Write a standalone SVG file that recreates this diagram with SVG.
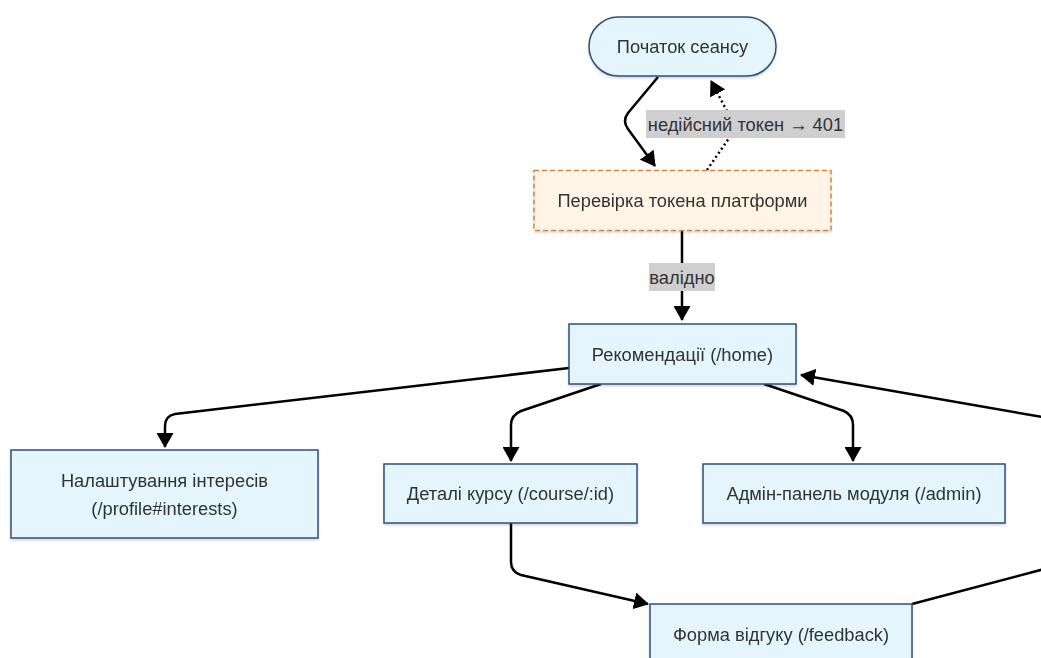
<svg xmlns="http://www.w3.org/2000/svg" width="1041" height="658" viewBox="0 0 1041 658">
  <style>
    .node { fill: #e5f5fd; stroke: #2b4f7e; stroke-width: 1.5; }
    .check { fill: #fff4e5; stroke: #d9843c; stroke-width: 1.5; stroke-dasharray: 5 3; }
    .label { font-family: "Liberation Sans", Arial, sans-serif; font-size: 18.3px; fill: #333; text-anchor: middle; dominant-baseline: central; }
    .edge { fill: none; stroke: #000; stroke-width: 2.5; }
    .dotted { stroke-dasharray: 2 3; }
    .elbg { fill: #cfcfcf; }
  </style>
  <defs>
    <marker id="arrow" viewBox="0 0 15 17" refX="14" refY="8.5" markerWidth="15" markerHeight="17" markerUnits="userSpaceOnUse" orient="auto">
      <path d="M0,0 L15,8.5 L0,17 z" fill="#000"/>
    </marker>
    <filter id="shadow" x="-10%" y="-10%" width="120%" height="130%">
      <feDropShadow dx="0" dy="1.5" stdDeviation="1.2" flood-color="#000" flood-opacity="0.18"/>
    </filter>
  </defs>

  <g id="edges">
    <path class="edge" d="M658,77 L628,113 Q622,121 628,129 L655,166" marker-end="url(#arrow)"/>
    <path class="edge dotted" d="M707,170 L736,128 L711,81" marker-end="url(#arrow)"/>
    <path class="edge" d="M682,231 L682,320" marker-end="url(#arrow)"/>
    <path class="edge" d="M569,368 L175,414 Q165,416 165,426 L165,447" marker-end="url(#arrow)"/>
    <path class="edge" d="M601,384 L521,411 Q511,415 511,425 L511,461" marker-end="url(#arrow)"/>
    <path class="edge" d="M764,384 L844,411 Q853,415 853,425 L853,461" marker-end="url(#arrow)"/>
    <path class="edge" d="M511,523 L511,562 Q511,572 521,575 L648,604" marker-end="url(#arrow)"/>
    <path class="edge" d="M912,604 L1048,568 Q1060,565 1060,552 L1060,432 Q1060,420 1048,418 L801,375" marker-end="url(#arrow)"/>
    <g id="edge-labels">
      <rect class="elbg" x="646" y="110" width="199" height="28"/>
      <text class="label" x="745.5" y="124">недійсний токен → 401</text>
      <rect class="elbg" x="649" y="263" width="66" height="28"/>
      <text class="label" x="682" y="277">валідно</text>
    </g>
  </g>

  <g id="start" filter="url(#shadow)">
    <rect class="node" x="589" y="17" width="187" height="59" rx="29.5"/>
    <text class="label" x="682.5" y="46.5">Початок сеансу</text>
  </g>
  <g id="token-check" filter="url(#shadow)">
    <rect class="check" x="534" y="170.5" width="297" height="60"/>
    <text class="label" x="682.5" y="200.5">Перевірка токена платформи</text>
  </g>
  <g id="home" filter="url(#shadow)">
    <rect class="node" x="569" y="324" width="227" height="60"/>
    <text class="label" x="682.5" y="354">Рекомендації (/home)</text>
  </g>
  <g id="interests" filter="url(#shadow)">
    <rect class="node" x="11" y="450" width="307" height="88"/>
    <text class="label" x="164.5" y="480">Налаштування інтересів</text>
    <text class="label" x="164.5" y="508">(/profile#interests)</text>
  </g>
  <g id="course" filter="url(#shadow)">
    <rect class="node" x="384" y="464" width="253" height="59"/>
    <text class="label" x="510.5" y="493.5">Деталі курсу (/course/:id)</text>
  </g>
  <g id="admin" filter="url(#shadow)">
    <rect class="node" x="703" y="464" width="302" height="59"/>
    <text class="label" x="854" y="493.5">Адмін-панель модуля (/admin)</text>
  </g>
  <g id="feedback" filter="url(#shadow)">
    <rect class="node" x="650" y="604" width="262" height="60"/>
    <text class="label" x="781" y="634">Форма відгуку (/feedback)</text>
  </g>
</svg>
